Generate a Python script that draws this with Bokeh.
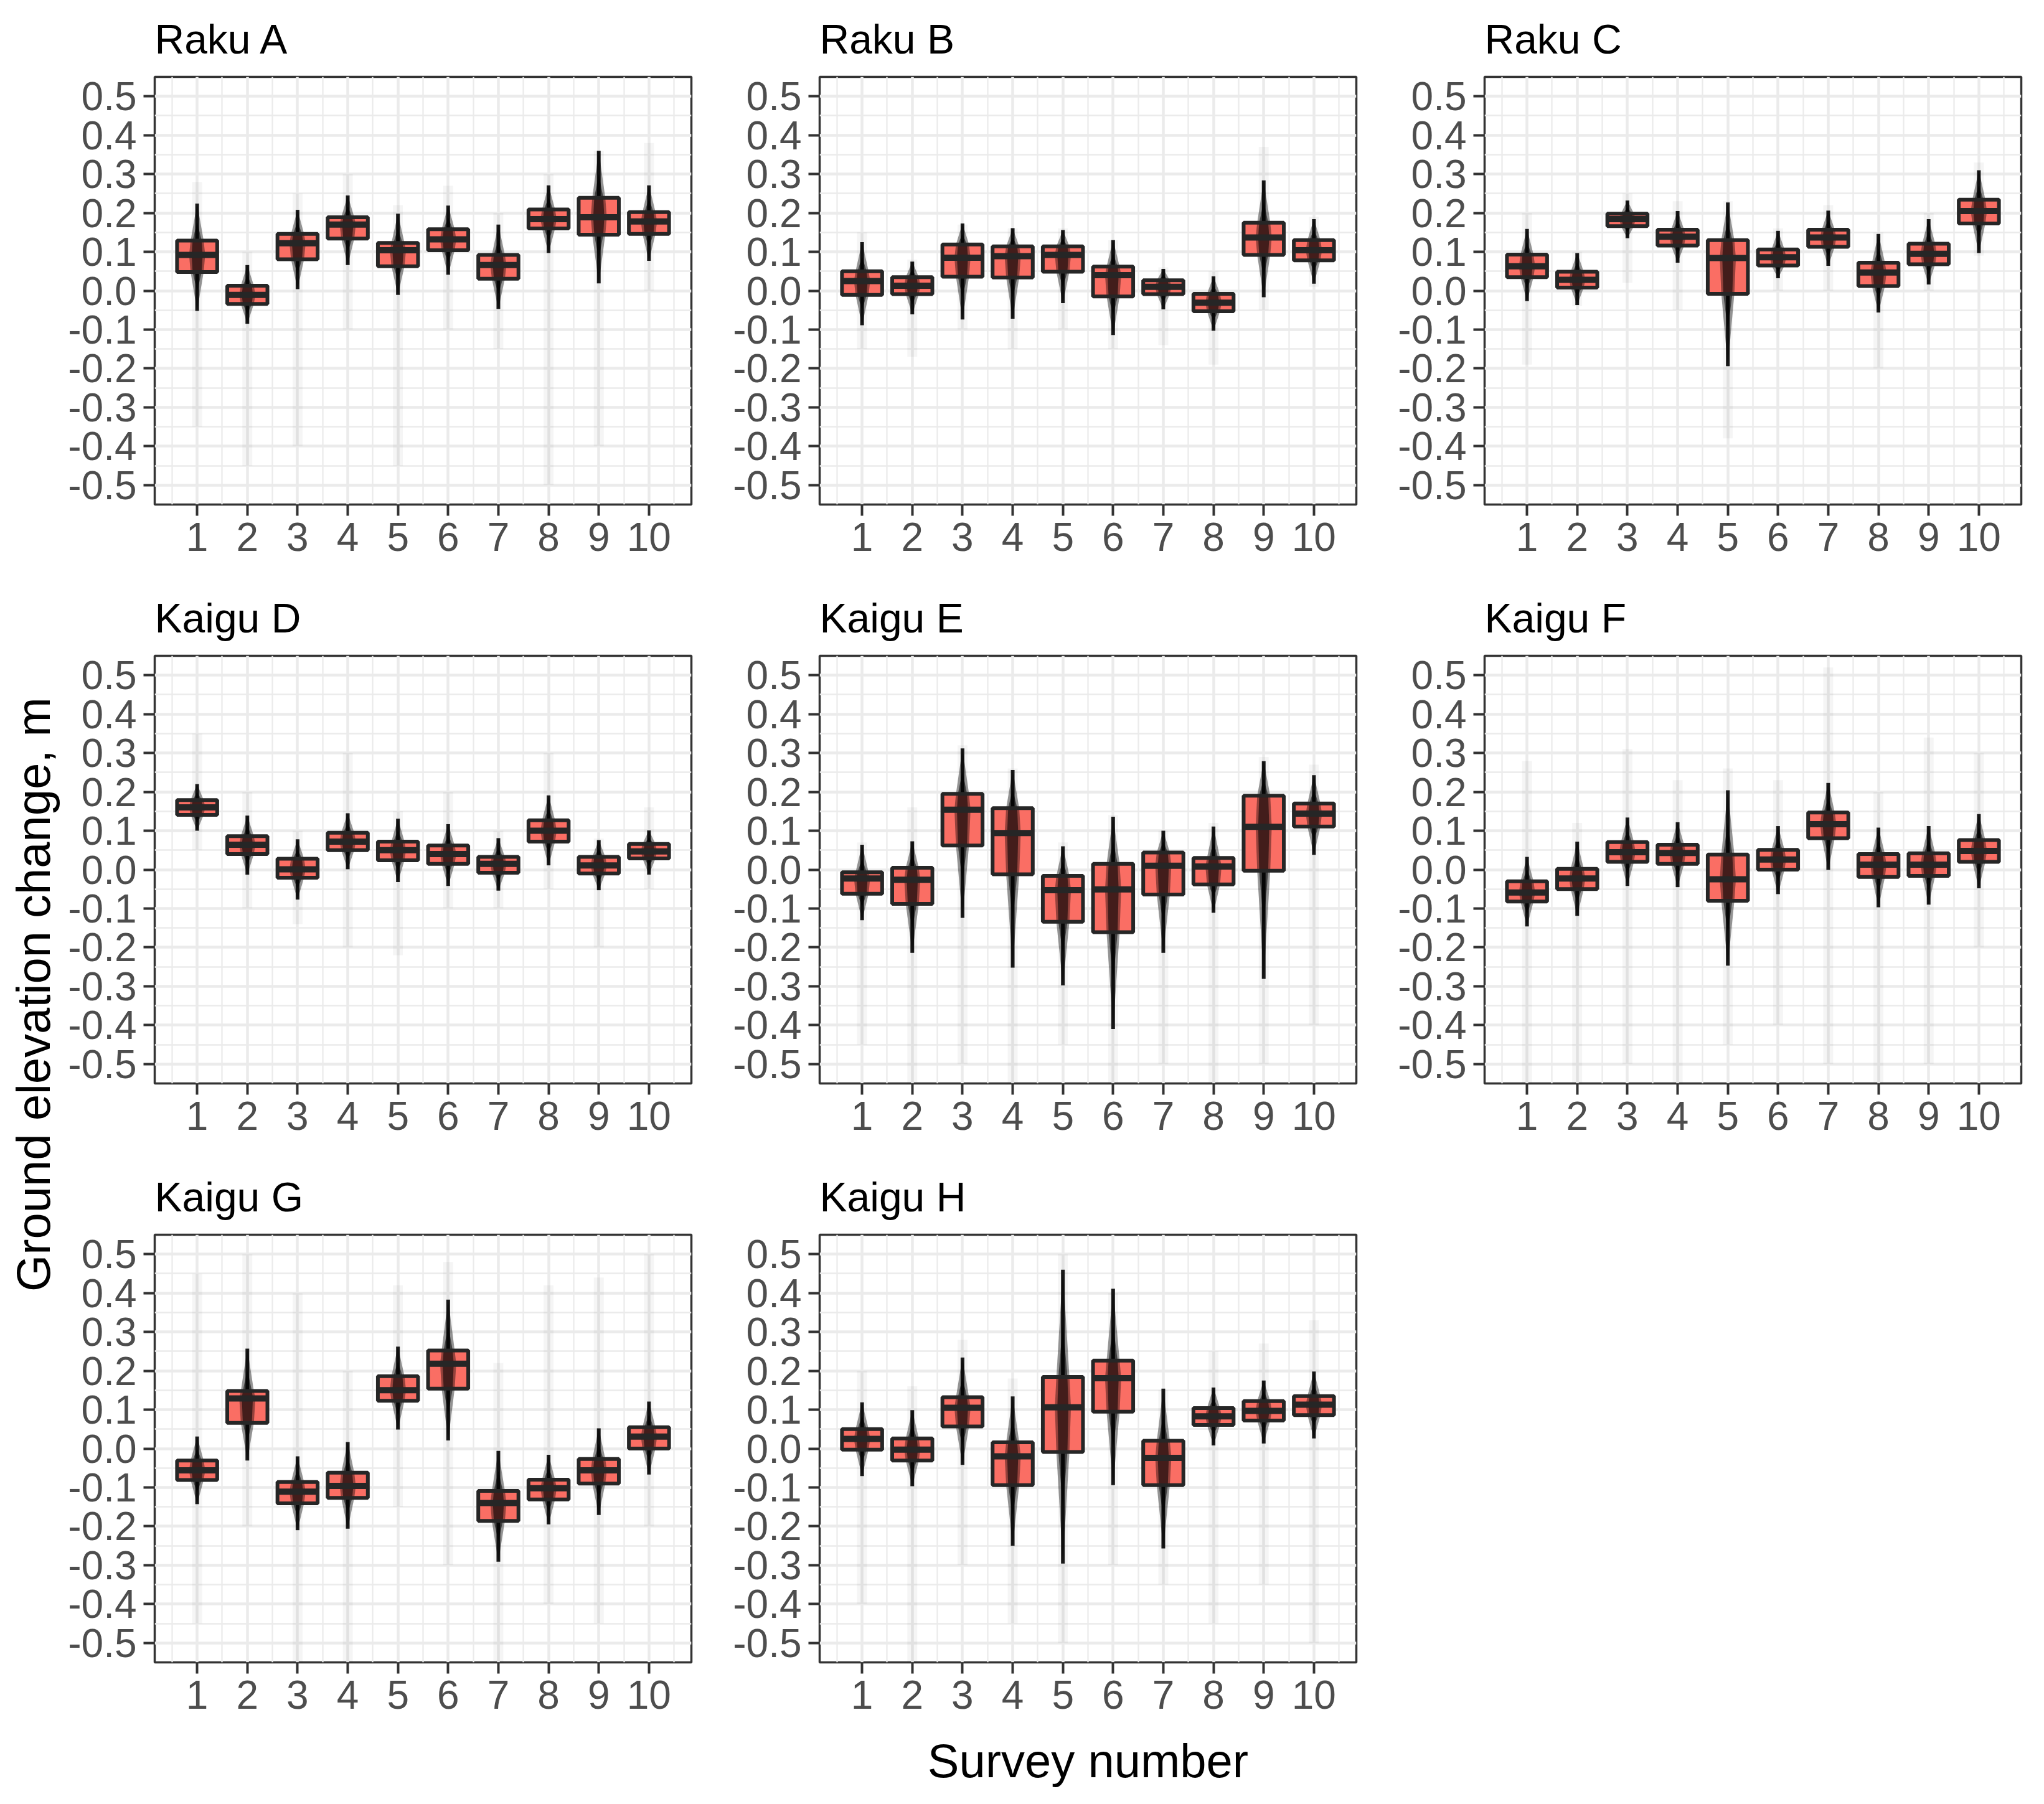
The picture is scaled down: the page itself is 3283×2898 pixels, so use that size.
import math
from bokeh.plotting import figure
from bokeh.layouts import row, column
from bokeh.models import FixedTicker, Range1d, ColumnDataSource, LinearAxis
from bokeh.embed import file_html
from bokeh.resources import INLINE

# ---------------- data ----------------
panels = ["Raku A", "Raku B", "Raku C", "Kaigu D", "Kaigu E", "Kaigu F", "Kaigu G", "Kaigu H"]
surveys = [1, 2, 3, 4, 5, 6, 7, 8, 9, 10]
x_tick_labels = ["1", "2", "3", "4", "5", "6", "7", "8", "9", "10"]
y_ticks = [-0.5, -0.4, -0.3, -0.2, -0.1, 0.0, 0.1, 0.2, 0.3, 0.4, 0.5]
y_tick_labels = ["-0.5", "-0.4", "-0.3", "-0.2", "-0.1", "0.0", "0.1", "0.2", "0.3", "0.4", "0.5"]
y_title = "Ground elevation change, m"
x_title = "Survey number"

q1 = {
    "Raku A": [0.048, -0.034, 0.081, 0.134, 0.063, 0.104, 0.031, 0.160, 0.144, 0.146],
    "Raku B": [-0.011, -0.009, 0.036, 0.034, 0.049, -0.015, -0.009, -0.053, 0.092, 0.078],
    "Raku C": [0.035, 0.008, 0.166, 0.116, -0.008, 0.065, 0.113, 0.012, 0.068, 0.173],
    "Kaigu D": [0.141, 0.040, -0.021, 0.050, 0.024, 0.015, -0.008, 0.072, -0.010, 0.029],
    "Kaigu E": [-0.062, -0.088, 0.062, -0.012, -0.134, -0.161, -0.064, -0.038, -0.003, 0.111],
    "Kaigu F": [-0.082, -0.050, 0.020, 0.015, -0.080, 0.000, 0.081, -0.019, -0.016, 0.020],
    "Kaigu G": [-0.081, 0.066, -0.141, -0.127, 0.123, 0.154, -0.186, -0.131, -0.090, 0.000],
    "Kaigu H": [-0.003, -0.031, 0.057, -0.094, -0.009, 0.095, -0.094, 0.061, 0.072, 0.086],
}
median = {
    "Raku A": [0.092, -0.011, 0.122, 0.170, 0.104, 0.132, 0.066, 0.184, 0.189, 0.178],
    "Raku B": [0.025, 0.013, 0.085, 0.089, 0.092, 0.040, 0.010, -0.031, 0.137, 0.104],
    "Raku C": [0.063, 0.028, 0.184, 0.139, 0.084, 0.086, 0.137, 0.047, 0.095, 0.205],
    "Kaigu D": [0.160, 0.064, 0.001, 0.072, 0.050, 0.040, 0.015, 0.100, 0.011, 0.047],
    "Kaigu E": [-0.023, -0.026, 0.154, 0.094, -0.053, -0.051, 0.010, 0.008, 0.110, 0.144],
    "Kaigu F": [-0.059, -0.023, 0.045, 0.043, -0.025, 0.026, 0.117, 0.013, 0.013, 0.048],
    "Kaigu G": [-0.056, 0.129, -0.111, -0.096, 0.150, 0.218, -0.140, -0.102, -0.056, 0.031],
    "Kaigu H": [0.025, -0.003, 0.105, -0.020, 0.106, 0.181, -0.024, 0.083, 0.097, 0.113],
}
q3 = {
    "Raku A": [0.129, 0.013, 0.146, 0.189, 0.123, 0.158, 0.092, 0.209, 0.239, 0.202],
    "Raku B": [0.050, 0.035, 0.119, 0.114, 0.114, 0.062, 0.027, -0.008, 0.175, 0.130],
    "Raku C": [0.093, 0.049, 0.198, 0.157, 0.130, 0.106, 0.157, 0.072, 0.121, 0.234],
    "Kaigu D": [0.179, 0.086, 0.028, 0.095, 0.072, 0.062, 0.033, 0.127, 0.033, 0.066],
    "Kaigu E": [-0.007, 0.005, 0.195, 0.158, -0.016, 0.015, 0.044, 0.030, 0.190, 0.170],
    "Kaigu F": [-0.030, 0.002, 0.071, 0.064, 0.039, 0.051, 0.147, 0.040, 0.042, 0.076],
    "Kaigu G": [-0.031, 0.148, -0.086, -0.062, 0.186, 0.252, -0.109, -0.080, -0.027, 0.055],
    "Kaigu H": [0.050, 0.026, 0.132, 0.016, 0.184, 0.226, 0.020, 0.104, 0.122, 0.135],
}
whisk_lo = {
    "Raku A": [-0.052, -0.085, 0.004, 0.066, -0.011, 0.041, -0.047, 0.097, 0.019, 0.077],
    "Raku B": [-0.089, -0.061, -0.074, -0.072, -0.032, -0.114, -0.048, -0.103, -0.017, 0.018],
    "Raku C": [-0.027, -0.037, 0.135, 0.072, -0.194, 0.032, 0.064, -0.056, 0.016, 0.097],
    "Kaigu D": [0.100, -0.013, -0.077, 0.001, -0.032, -0.042, -0.054, 0.011, -0.053, -0.013],
    "Kaigu E": [-0.130, -0.214, -0.124, -0.252, -0.298, -0.410, -0.214, -0.111, -0.281, 0.038],
    "Kaigu F": [-0.146, -0.119, -0.042, -0.045, -0.247, -0.063, -0.001, -0.097, -0.090, -0.048],
    "Kaigu G": [-0.143, -0.031, -0.210, -0.206, 0.049, 0.021, -0.291, -0.195, -0.171, -0.067],
    "Kaigu H": [-0.071, -0.097, -0.042, -0.250, -0.296, -0.094, -0.257, 0.008, 0.013, 0.026],
}
whisk_hi = {
    "Raku A": [0.224, 0.066, 0.208, 0.245, 0.198, 0.219, 0.170, 0.271, 0.360, 0.271],
    "Raku B": [0.125, 0.075, 0.173, 0.161, 0.156, 0.130, 0.056, 0.037, 0.284, 0.184],
    "Raku C": [0.159, 0.097, 0.232, 0.205, 0.227, 0.154, 0.206, 0.146, 0.184, 0.310],
    "Kaigu D": [0.220, 0.139, 0.078, 0.145, 0.131, 0.117, 0.081, 0.191, 0.076, 0.101],
    "Kaigu E": [0.064, 0.073, 0.312, 0.256, 0.060, 0.136, 0.100, 0.111, 0.279, 0.243],
    "Kaigu F": [0.033, 0.072, 0.134, 0.122, 0.204, 0.112, 0.223, 0.108, 0.112, 0.143],
    "Kaigu G": [0.031, 0.257, -0.020, 0.017, 0.262, 0.383, -0.006, -0.016, 0.052, 0.121],
    "Kaigu H": [0.119, 0.099, 0.234, 0.134, 0.460, 0.411, 0.154, 0.157, 0.175, 0.198],
}
# extent of the faint scattered survey points
points_lo = {
    "Raku A": [-0.35, -0.45, -0.40, -0.10, -0.45, -0.10, -0.15, -0.50, -0.40, 0.00],
    "Raku B": [-0.15, -0.17, -0.10, -0.15, -0.10, -0.15, -0.14, -0.19, -0.05, 0.01],
    "Raku C": [-0.19, -0.04, 0.02, -0.05, -0.38, 0.00, 0.00, -0.20, 0.00, 0.09],
    "Kaigu D": [0.05, -0.10, -0.14, -0.20, -0.22, -0.10, -0.10, -0.05, -0.20, -0.05],
    "Kaigu E": [-0.45, -0.55, -0.50, -0.55, -0.45, -0.55, -0.50, -0.55, -0.50, -0.40],
    "Kaigu F": [-0.55, -0.55, -0.50, -0.55, -0.45, -0.40, -0.50, -0.55, -0.50, -0.20],
    "Kaigu G": [-0.45, -0.20, -0.55, -0.55, -0.15, -0.30, -0.55, -0.40, -0.45, -0.20],
    "Kaigu H": [-0.40, -0.55, -0.30, -0.45, -0.50, -0.30, -0.35, -0.45, -0.35, -0.50],
}
points_hi = {
    "Raku A": [0.28, 0.10, 0.25, 0.30, 0.22, 0.27, 0.20, 0.30, 0.36, 0.38],
    "Raku B": [0.15, 0.08, 0.17, 0.16, 0.16, 0.13, 0.06, 0.05, 0.37, 0.19],
    "Raku C": [0.20, 0.10, 0.25, 0.23, 0.23, 0.16, 0.22, 0.15, 0.20, 0.33],
    "Kaigu D": [0.35, 0.20, 0.10, 0.30, 0.15, 0.20, 0.10, 0.30, 0.08, 0.16],
    "Kaigu E": [0.07, 0.16, 0.32, 0.26, 0.07, 0.14, 0.10, 0.12, 0.29, 0.27],
    "Kaigu F": [0.28, 0.12, 0.31, 0.23, 0.26, 0.23, 0.52, 0.20, 0.34, 0.30],
    "Kaigu G": [0.45, 0.50, 0.40, 0.20, 0.42, 0.48, 0.22, 0.42, 0.44, 0.50],
    "Kaigu H": [0.20, 0.16, 0.28, 0.18, 0.50, 0.40, 0.15, 0.25, 0.27, 0.33],
}

# ---------------- style / layout ----------------
FONT = "Liberation Sans"
FILL = "#FA6E64"
DARK = "#262626"
GRID = "#EBEBEB"
FRAME_W, FRAME_H = 862, 687
COL_W, LEFT_B = 1068, 148
ROW_H, TOP_B = 930, 123
EXTRA_BOTTOM = 92
YLAB_W = 100
BOX_W = 0.8


def cloud_shapes(xs_c, lo, a, m, b, hi, w_q, w_m):
    xs, ys = [], []
    for x, l, qa, md, qb, h in zip(xs_c, lo, a, m, b, hi):
        xs.append([x, x + w_q, x + w_m, x + w_q, x, x - w_q, x - w_m, x - w_q])
        ys.append([l, qa, md, qb, h, qb, md, qa])
    return xs, ys


def make_panel(name, col, last_row, xlabel):
    right_b = 10 if col == 2 else COL_W - LEFT_B - FRAME_W
    bottom_b = (ROW_H + EXTRA_BOTTOM) - TOP_B - FRAME_H if last_row else ROW_H - TOP_B - FRAME_H
    p = figure(frame_width=FRAME_W, frame_height=FRAME_H,
               x_range=Range1d(0.155, 10.845), y_range=Range1d(-0.55, 0.55),
               min_border_left=LEFT_B, min_border_right=right_b,
               min_border_top=TOP_B, min_border_bottom=bottom_b,
               output_backend="svg", toolbar_location=None, title=name)
    p.title.text_font = FONT
    p.title.text_font_size = "66px"
    p.title.text_font_style = "normal"
    p.title.text_color = "#000000"
    p.title.align = "left"
    p.title.standoff = 47
    p.background_fill_color = "white"
    p.border_fill_color = "white"
    p.outline_line_color = "#333333"
    p.outline_line_width = 3.5

    p.xaxis.ticker = FixedTicker(ticks=surveys, minor_ticks=[s - 0.5 for s in surveys] + [10.5])
    p.xaxis.major_label_overrides = {s: lab for s, lab in zip(surveys, x_tick_labels)}
    p.yaxis.ticker = FixedTicker(ticks=y_ticks, minor_ticks=[round(t + 0.05, 2) for t in y_ticks[:-1]])
    p.yaxis.major_label_overrides = {t: lab for t, lab in zip(y_ticks, y_tick_labels)}
    for ax in (p.xaxis[0], p.yaxis[0]):
        ax.axis_line_color = None
        ax.major_tick_line_color = "#333333"
        ax.major_tick_line_width = 4
        ax.major_tick_in = 0
        ax.major_tick_out = 18
        ax.minor_tick_line_color = None
        ax.major_label_text_font = FONT
        ax.major_label_text_font_size = "64px"
        ax.major_label_text_color = "#4D4D4D"
    p.yaxis.major_label_standoff = 11
    p.xaxis.major_label_standoff = 11
    if xlabel:
        p.xaxis.axis_label = x_title
        p.xaxis.axis_label_text_font = FONT
        p.xaxis.axis_label_text_font_size = "76px"
        p.xaxis.axis_label_text_font_style = "normal"
        p.xaxis.axis_label_text_color = "#000000"
        p.xaxis.axis_label_standoff = 38

    for g in (p.xgrid[0], p.ygrid[0]):
        g.grid_line_color = GRID
        g.grid_line_width = 4.5
        g.minor_grid_line_color = GRID
        g.minor_grid_line_width = 2.3

    src = ColumnDataSource(dict(x=surveys, q1=q1[name], med=median[name], q3=q3[name],
                                lo=whisk_lo[name], hi=whisk_hi[name],
                                plo=points_lo[name], phi=points_hi[name],
                                left=[s - BOX_W / 2 for s in surveys],
                                right=[s + BOX_W / 2 for s in surveys]))
    # faint scattered points
    p.segment(x0="x", y0="plo", x1="x", y1="phi", source=src,
              line_color="black", line_alpha=0.04, line_width=16)
    # whiskers
    p.segment(x0="x", y0="lo", x1="x", y1="hi", source=src,
              line_color="#1A1A1A", line_width=6)
    # box fill
    p.vbar(x="x", width=BOX_W, top="q3", bottom="q1", source=src,
           fill_color=FILL, line_color=None)
    # dense point cloud (outer and inner)
    xs, ys = cloud_shapes(surveys, whisk_lo[name], q1[name], median[name], q3[name], whisk_hi[name], 0.13, 0.16)
    p.patches(xs=xs, ys=ys, fill_color="black", fill_alpha=0.4, line_color=None)
    inner_lo = [(l + a) / 2 for l, a in zip(whisk_lo[name], q1[name])]
    inner_hi = [(h + b) / 2 for h, b in zip(whisk_hi[name], q3[name])]
    xs2, ys2 = cloud_shapes(surveys, inner_lo, q1[name], median[name], q3[name], inner_hi, 0.09, 0.11)
    p.patches(xs=xs2, ys=ys2, fill_color="black", fill_alpha=0.55, line_color=None)
    # box outline and median
    p.vbar(x="x", width=BOX_W, top="q3", bottom="q1", source=src,
           fill_color=None, line_color=DARK, line_width=6)
    p.segment(x0="left", y0="med", x1="right", y1="med", source=src,
              line_color=DARK, line_width=10)
    return p


figs = []
for i, name in enumerate(panels):
    r, c = divmod(i, 3)
    figs.append(make_panel(name, c, r == 2, name == "Kaigu H"))

# shared y-axis title: an axis label on a narrow strip at the far left
total_h = 3 * ROW_H + EXTRA_BOTTOM
label_center = 1597
strip_frame_h = 2 * (total_h - label_center)
ylab = figure(frame_width=1, frame_height=strip_frame_h,
              x_range=Range1d(0, 1), y_range=Range1d(0, 1),
              min_border_left=YLAB_W - 1, min_border_right=0,
              min_border_top=total_h - strip_frame_h, min_border_bottom=0,
              x_axis_location=None, y_axis_location=None,
              output_backend="svg", toolbar_location=None)
ylab.grid.visible = False
ylab.outline_line_color = None
ylab.border_fill_color = "white"
ylab.background_fill_color = "white"
yax = LinearAxis(ticker=FixedTicker(ticks=[]), axis_label=y_title,
                 axis_line_color=None, major_tick_line_color=None, minor_tick_line_color=None,
                 major_label_text_font_size="0px",
                 axis_label_text_font=FONT, axis_label_text_font_size="76px",
                 axis_label_text_font_style="normal", axis_label_text_color="#000000",
                 axis_label_standoff=4)
ylab.add_layout(yax, "left")

grid = column(row(*figs[0:3]), row(*figs[3:6]), row(*figs[6:8]))
layout = row(ylab, grid)

open("out.html", "w").write(file_html(layout, INLINE))
